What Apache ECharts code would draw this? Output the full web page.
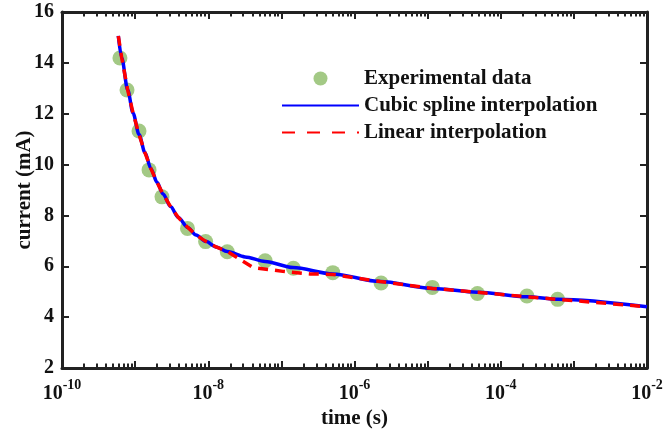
<!DOCTYPE html>
<html>
<head>
<meta charset="utf-8">
<script src="https://cdn.jsdelivr.net/npm/echarts@6/dist/echarts.min.js"></script>
<style>html,body{margin:0;padding:0;background:#fff;}#c{width:667px;height:435px;}</style>
</head>
<body>
<div id="c"></div>
<script>
// Experimental data
var expTime = [6.2e-10, 7.75e-10, 1.13e-9, 1.55e-9, 2.33e-9, 5.2e-9, 9.2e-9, 1.82e-8, 6.0e-8, 1.46e-7, 5.05e-7, 2.31e-6, 1.16e-5, 4.8e-5, 2.28e-4, 6.0e-4];
var expCurrent = [14.19, 12.93, 11.32, 9.79, 8.73, 7.49, 6.97, 6.57, 6.22, 5.92, 5.75, 5.34, 5.17, 4.93, 4.83, 4.70];
// Cubic spline interpolation curve (samples)
var splineTime = [5.89e-10, 6.56e-10, 7.92e-10, 9.36e-10, 1.131e-9, 1.366e-9, 1.65e-9, 1.994e-9, 2.408e-9, 3.05e-9, 3.9e-9, 5.24e-9, 6.81e-9, 9.24e-9, 1.279e-8, 1.825e-8, 3.19e-8, 5.98e-8, 1.446e-7, 5.05e-7, 2.24e-6, 1.164e-5, 4.8e-5, 2.275e-4, 6.04e-4, 1e-2];
var splineCurrent = [15.06, 14.19, 12.93, 12.03, 11.18, 10.46, 9.83, 9.30, 8.84, 8.35, 7.92, 7.53, 7.23, 6.98, 6.76, 6.58, 6.37, 6.19, 5.95, 5.70, 5.40, 5.13, 4.98, 4.80, 4.70, 4.41];
// Linear interpolation polyline (vertices)
var linearTime = [5.89e-10, 6.56e-10, 7.92e-10, 9.36e-10, 1.131e-9, 1.366e-9, 1.65e-9, 1.994e-9, 2.408e-9, 3.05e-9, 3.9e-9, 5.24e-9, 6.81e-9, 9.24e-9, 1.279e-8, 1.825e-8, 4.1e-8, 1.05e-7, 2.47e-7, 5.05e-7, 2.24e-6, 1.164e-5, 4.8e-5, 2.275e-4, 6.04e-4, 1e-2];
var linearCurrent = [15.06, 14.19, 12.93, 12.03, 11.18, 10.46, 9.83, 9.30, 8.84, 8.35, 7.92, 7.53, 7.23, 6.98, 6.76, 6.58, 5.95, 5.80, 5.70, 5.68, 5.40, 5.13, 4.98, 4.80, 4.70, 4.41];
// Axis tick values
var xMin = 1e-10, xMax = 1e-2;
var yTicks = [2, 4, 6, 8, 10, 12, 14, 16];

var minorTicks = [];
for (var n = -10; n < -2; n++) {
  for (var k = 2; k <= 9; k++) minorTicks.push(k * Math.pow(10, n));
}
function zip(a, b) { return a.map(function (v, i) { return [v, b[i]]; }); }

var FONT = "'Liberation Serif', 'Times New Roman', serif";
var AX = '#222222';

function xAx(pos, minor, main) {
  return {
    type: 'log', logBase: 10, min: xMin, max: xMax, interval: 1, position: pos,
    axisLine: { show: !minor, lineStyle: { color: AX, width: 3 } },
    axisTick: minor ? { show: true, inside: true, length: 4.5, customValues: minorTicks, lineStyle: { color: AX, width: 2 } }
                    : { show: true, inside: true, length: 7, lineStyle: { color: AX, width: 2 } },
    axisLabel: main ? {
      show: true, margin: 10,
      formatter: function (v) {
        var e = Math.round(Math.log10(v));
        if (e % 2 !== 0) return '';
        return '{b|10}{s|' + e + '}';
      },
      rich: {
        b: { fontSize: 20, fontWeight: 'bold', fontFamily: FONT, color: '#111', verticalAlign: 'bottom', lineHeight: 26 },
        s: { fontSize: 14, fontWeight: 'bold', fontFamily: FONT, color: '#111', verticalAlign: 'top', lineHeight: 26 }
      }
    } : { show: false },
    splitLine: { show: false },
    name: main ? 'time (s)' : '',
    nameLocation: 'middle', nameGap: 40, nameMoveOverlap: false,
    nameTextStyle: { fontSize: 21, fontWeight: 'bold', fontFamily: FONT, color: '#111' }
  };
}

var option = {
  backgroundColor: '#fff',
  animation: false,
  grid: { left: 62, right: 20, top: 12, bottom: 67, outerBoundsMode: 'none', containLabel: false },
  legend: {
    orient: 'vertical', left: 276, top: 63,
    itemWidth: 77, itemHeight: 14, itemGap: 6,
    selectedMode: false,
    textStyle: { fontSize: 21, fontWeight: 'bold', fontFamily: FONT, color: '#111' },
    data: [
      { name: 'Experimental data' },
      { name: 'Cubic spline interpolation', itemStyle: { opacity: 0, color: 'rgba(0,0,0,0)' } },
      { name: 'Linear interpolation', itemStyle: { opacity: 0, color: 'rgba(0,0,0,0)' }, lineStyle: { type: [13, 12] } }
    ]
  },
  xAxis: [xAx('bottom', false, true), xAx('bottom', true, false), xAx('top', false, false), xAx('top', true, false)],
  yAxis: [
    {
      type: 'value', min: 2, max: 16, interval: 2, position: 'left',
      axisLine: { show: true, lineStyle: { color: AX, width: 3 } },
      axisTick: { show: true, inside: true, length: 7, lineStyle: { color: AX, width: 2 } },
      axisLabel: { margin: 8, fontSize: 20, fontWeight: 'bold', fontFamily: FONT, color: '#111',
        formatter: function (v) { return yTicks.indexOf(v) >= 0 ? String(v) : ''; } },
      splitLine: { show: false },
      name: 'current (mA)', nameLocation: 'middle', nameGap: 27, nameMoveOverlap: false,
      nameTextStyle: { fontSize: 21, fontWeight: 'bold', fontFamily: FONT, color: '#111' }
    },
    {
      type: 'value', min: 2, max: 16, interval: 2, position: 'right',
      axisLine: { show: true, lineStyle: { color: AX, width: 3 } },
      axisTick: { show: true, inside: true, length: 7, lineStyle: { color: AX, width: 2 } },
      axisLabel: { show: false },
      splitLine: { show: false }
    }
  ],
  series: [
    {
      name: 'Experimental data', type: 'scatter', xAxisIndex: 0, yAxisIndex: 0,
      symbol: 'circle', symbolSize: 15,
      itemStyle: { color: '#8cbb67' },
      data: zip(expTime, expCurrent), z: 2
    },
    {
      name: 'Cubic spline interpolation', type: 'line', xAxisIndex: 0, yAxisIndex: 0,
      showSymbol: false, symbol: 'none', smooth: 0.3, smoothMonotone: 'x',
      lineStyle: { color: '#0000ff', width: 3.5 }, itemStyle: { color: '#0000ff' },
      data: zip(splineTime, splineCurrent), z: 3
    },
    {
      name: 'Linear interpolation', type: 'line', xAxisIndex: 0, yAxisIndex: 0,
      showSymbol: false, symbol: 'none', smooth: false,
      lineStyle: { color: '#ff0000', width: 3.5, type: [10, 7] }, itemStyle: { color: '#ff0000' },
      data: zip(linearTime, linearCurrent), z: 4
    }
  ]
};
var chart = echarts.init(document.getElementById('c'), null, { renderer: 'canvas' });
chart.setOption(option);
</script>
</body>
</html>
